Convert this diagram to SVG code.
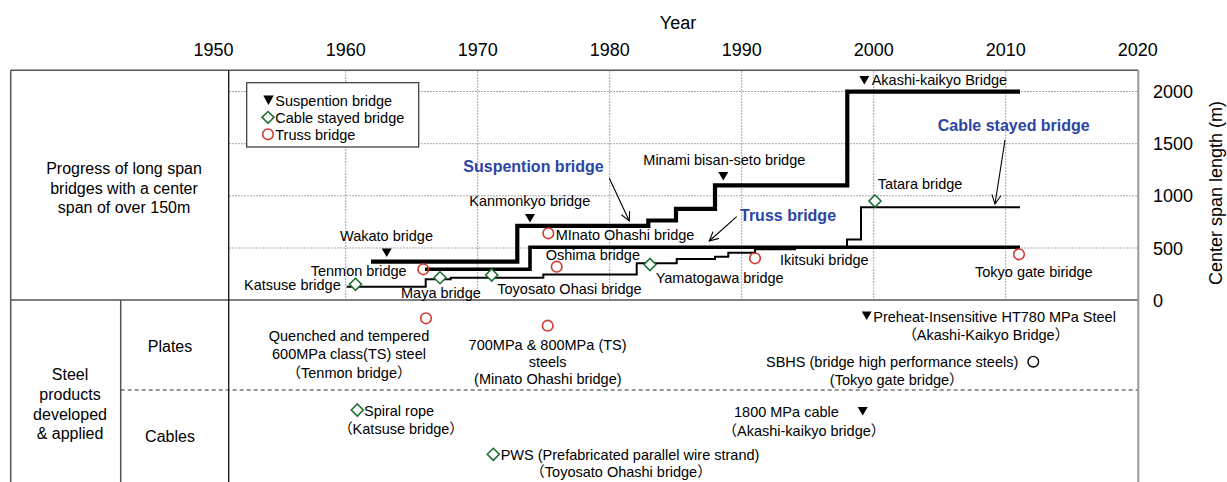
<svg xmlns="http://www.w3.org/2000/svg" width="1227" height="482" viewBox="0 0 1227 482">
<defs>
<style>
text{font-family:"Liberation Sans","Noto Sans CJK JP",Arial,sans-serif;fill:#000}
.ax{font-size:18px}
.lb{font-size:14.5px}
.hd{font-size:16px}
.bl{font-size:16px;font-weight:bold;fill:#2b45a6}
.mid{text-anchor:middle}
.grid{stroke:#a8a8a8;stroke-width:1;stroke-dasharray:2 1;fill:none}
.frame{stroke:#555;stroke-width:1.5;fill:none}
.susp{stroke:#000;stroke-width:4.2;fill:none;stroke-linejoin:miter}
.truss{stroke:#000;stroke-width:3.6;fill:none}
.cable{stroke:#000;stroke-width:2;fill:none}
.tri{fill:#000}
.dia{fill:#fff;stroke:#1f6e33;stroke-width:1.6}
.cir{fill:none;stroke:#d23a32;stroke-width:1.6}
.arr{stroke:#000;stroke-width:1.1;fill:none;marker-end:url(#ah)}
</style>
<marker id="ah" viewBox="-10 -6 12 12" markerWidth="12" markerHeight="12" markerUnits="userSpaceOnUse" orient="auto" refX="0" refY="0">
<path d="M-9,-4.5 L0,0 L-9,4.5" fill="none" stroke="#000" stroke-width="1.1"/>
</marker>
</defs>
<rect x="0" y="0" width="1227" height="482" fill="#fff"/>

<g id="axes">
<text class="ax mid" x="678" y="29">Year</text>
<text class="ax mid" x="213.6" y="55.5">1950</text>
<text class="ax mid" x="345.7" y="55.5">1960</text>
<text class="ax mid" x="477.7" y="55.5">1970</text>
<text class="ax mid" x="609.7" y="55.5">1980</text>
<text class="ax mid" x="741.7" y="55.5">1990</text>
<text class="ax mid" x="873.7" y="55.5">2000</text>
<text class="ax mid" x="1005.7" y="55.5">2010</text>
<text class="ax mid" x="1137.8" y="55.5">2020</text>
<text class="ax" x="1153" y="97.8">2000</text>
<text class="ax" x="1153" y="150.2">1500</text>
<text class="ax" x="1153" y="202.3">1000</text>
<text class="ax" x="1153" y="254.8">500</text>
<text class="ax" x="1153" y="306.8">0</text>
<text class="ax mid" transform="translate(1222,193) rotate(-90)">Center span length  (m)</text>
</g>

<g id="grid">
<path class="grid" d="M345.7,71V300M477.7,71V300M609.7,71V300M741.7,71V300M873.7,71V300M1005.7,71V300"/>
<path class="grid" d="M229,91.5H1138M229,143.7H1138M229,195.8H1138M229,248H1138"/>
</g>

<g id="frame">
<path class="frame" d="M10.7,70.3H1138.3M10.7,70.3V482M10.7,300H1138.3M120.7,300V482"/>
<path d="M228.7,70.3V482" stroke="#111" stroke-width="1.3"/>
<path d="M1138.3,70.3V482" stroke="#999" stroke-width="2"/>
<path d="M120.7,390H1137.5" stroke="#333" stroke-width="1.2" stroke-dasharray="4 3"/>
</g>

<g id="row-labels">
<text class="hd mid" x="124" y="174">Progress of long span</text>
<text class="hd mid" x="124" y="193.5">bridges with a center</text>
<text class="hd mid" x="124" y="213">span of over 150m</text>
<text class="hd mid" x="70" y="380">Steel</text>
<text class="hd mid" x="70" y="400">products</text>
<text class="hd mid" x="70" y="419.5">developed</text>
<text class="hd mid" x="70" y="439">&amp; applied</text>
<text class="hd mid" x="170" y="352">Plates</text>
<text class="hd mid" x="170" y="442">Cables</text>
</g>

<g id="legend">
<rect x="246.7" y="82.7" width="172" height="64.3" fill="#fff" stroke="#333" stroke-width="1.2"/>
<polygon class="tri" points="263.3,95.5 273.7,95.5 268.5,105"/>
<polygon class="dia" points="268,111.5 274,117.3 268,123.1 262,117.3"/>
<circle class="cir" cx="268" cy="134.3" r="5.3"/>
<text class="lb" x="275.3" y="105.5">Suspention bridge</text>
<text class="lb" x="275.3" y="122.8">Cable stayed bridge</text>
<text class="lb" x="275.3" y="139.8">Truss bridge</text>
</g>

<g id="series">
<path class="cable" d="M346.7,286.7H425.7V279.3H450.7V277.7H543.3V274.5H636.7V263.3H676.7V259H715V256.7H728.3V252.7H755V249.3H795V247.3H847V239.5H861V207.3H1020"/>
<path class="truss" d="M425,269.3H530V247.3H1020"/>
<path class="susp" d="M371,261.7H517.3V225.8H648.3V220.5H676V208.8H715V185.4H847.3V91.7H1020"/>
</g>

<g id="connectors">
<path class="arr" d="M609.3,178.3L629.3,221"/>
<path class="arr" d="M736.7,216.7L709.3,241"/>
<path class="arr" d="M1005,140L995,204"/>
</g>

<g id="label-suspension"><text class="bl" x="463.3" y="171.5">Suspention bridge</text></g>
<g id="label-truss"><text class="bl" x="740" y="220.5">Truss bridge</text></g>
<g id="label-cable"><text class="bl" x="937.7" y="130.5">Cable stayed bridge</text></g>

<g id="wakato"><polygon class="tri" points="381.7,248.5 391.7,248.5 386.7,257"/><text class="lb" x="340" y="241">Wakato bridge</text></g>
<g id="kanmonkyo"><polygon class="tri" points="525,214 535,214 530,222.5"/><text class="lb" x="469.3" y="206">Kanmonkyo bridge</text></g>
<g id="minami-bisan-seto"><polygon class="tri" points="718.3,172 728.3,172 723.3,180.5"/><text class="lb" x="643.3" y="165">Minami bisan-seto bridge</text></g>
<g id="akashi"><polygon class="tri" points="859.3,76 869.3,76 864.3,84.5"/><text class="lb" x="871.7" y="85">Akashi-kaikyo Bridge</text></g>

<g id="katsuse"><polygon class="dia" points="355.5,278.3 361.5,284.3 355.5,290.3 349.5,284.3"/><text class="lb" x="244" y="289.5">Katsuse bridge</text></g>
<g id="maya"><polygon class="dia" points="440,271.7 446,277.7 440,283.7 434,277.7"/><text class="lb" x="401" y="298">Maya bridge</text></g>
<g id="toyosato"><polygon class="dia" points="491.7,269 497.7,275 491.7,281 485.7,275"/><text class="lb" x="497.3" y="293.5">Toyosato Ohasi bridge</text></g>
<g id="yamatogawa"><polygon class="dia" points="650,258.5 656,264.5 650,270.5 644,264.5"/><text class="lb" x="655.7" y="282.5">Yamatogawa bridge</text></g>
<g id="tatara"><polygon class="dia" points="875,195 881,201 875,207 869,201"/><text class="lb" x="877.7" y="188.5">Tatara bridge</text></g>

<g id="tenmon"><circle class="cir" cx="423.3" cy="269.3" r="5.3"/><text class="lb" x="310.7" y="276">Tenmon bridge</text></g>
<g id="minato-ohashi"><circle class="cir" cx="548.3" cy="233.3" r="5.3"/><text class="lb" x="555.7" y="239.5">MInato Ohashi bridge</text></g>
<g id="oshima"><circle class="cir" cx="556.7" cy="266.7" r="5.3"/><text class="lb" x="545.7" y="260">Oshima bridge</text></g>
<g id="ikitsuki"><circle class="cir" cx="755" cy="258.3" r="5.3"/><text class="lb" x="780" y="265">Ikitsuki bridge</text></g>
<g id="tokyo-gate"><circle class="cir" cx="1019" cy="254.3" r="5.3"/><text class="lb" x="975" y="277">Tokyo gate biridge</text></g>

<g id="steel-600">
<circle class="cir" cx="426" cy="318.3" r="5.3"/>
<text class="lb mid" x="349" y="340.5">Quenched and tempered</text>
<text class="lb mid" x="349" y="358.5">600MPa class(TS) steel</text>
<text class="lb mid" x="349" y="378">（Tenmon bridge）</text>
</g>
<g id="steel-700-800">
<circle class="cir" cx="547.7" cy="325.7" r="5.3"/>
<text class="lb mid" x="547.6" y="349.5">700MPa &amp; 800MPa (TS)</text>
<text class="lb mid" x="547.6" y="366.5">steels</text>
<text class="lb mid" x="547.8" y="383.5">(Minato Ohashi bridge)</text>
</g>
<g id="steel-ht780">
<polygon class="tri" points="861.7,311.5 871.7,311.5 866.7,320"/>
<text class="lb" x="873.3" y="321.5">Preheat-Insensitive HT780 MPa Steel</text>
<text class="lb mid" x="985.8" y="339.5">（Akashi-Kaikyo Bridge）</text>
</g>
<g id="steel-sbhs">
<circle cx="1033.3" cy="361.7" r="5.3" fill="none" stroke="#000" stroke-width="1.4"/>
<text class="lb" x="766" y="367">SBHS (bridge high performance steels)</text>
<text class="lb mid" x="896.7" y="384.5">(Tokyo gate bridge）</text>
</g>
<g id="cable-spiral">
<polygon class="dia" points="357.3,404 363.3,410 357.3,416 351.3,410"/>
<text class="lb" x="364" y="415.5">Spiral rope</text>
<text class="lb mid" x="401" y="433.5">（Katsuse bridge）</text>
</g>
<g id="cable-1800">
<polygon class="tri" points="857.7,407 867.7,407 862.7,415.5"/>
<text class="lb" x="734" y="417">1800 MPa cable</text>
<text class="lb mid" x="803.9" y="435.5">（Akashi-kaikyo bridge）</text>
</g>
<g id="cable-pws">
<polygon class="dia" points="493.3,448.3 499.3,454.3 493.3,460.3 487.3,454.3"/>
<text class="lb" x="500.7" y="459.5">PWS (Prefabricated parallel wire strand)</text>
<text class="lb mid" x="621" y="477">（Toyosato Ohashi bridge）</text>
</g>
</svg>
